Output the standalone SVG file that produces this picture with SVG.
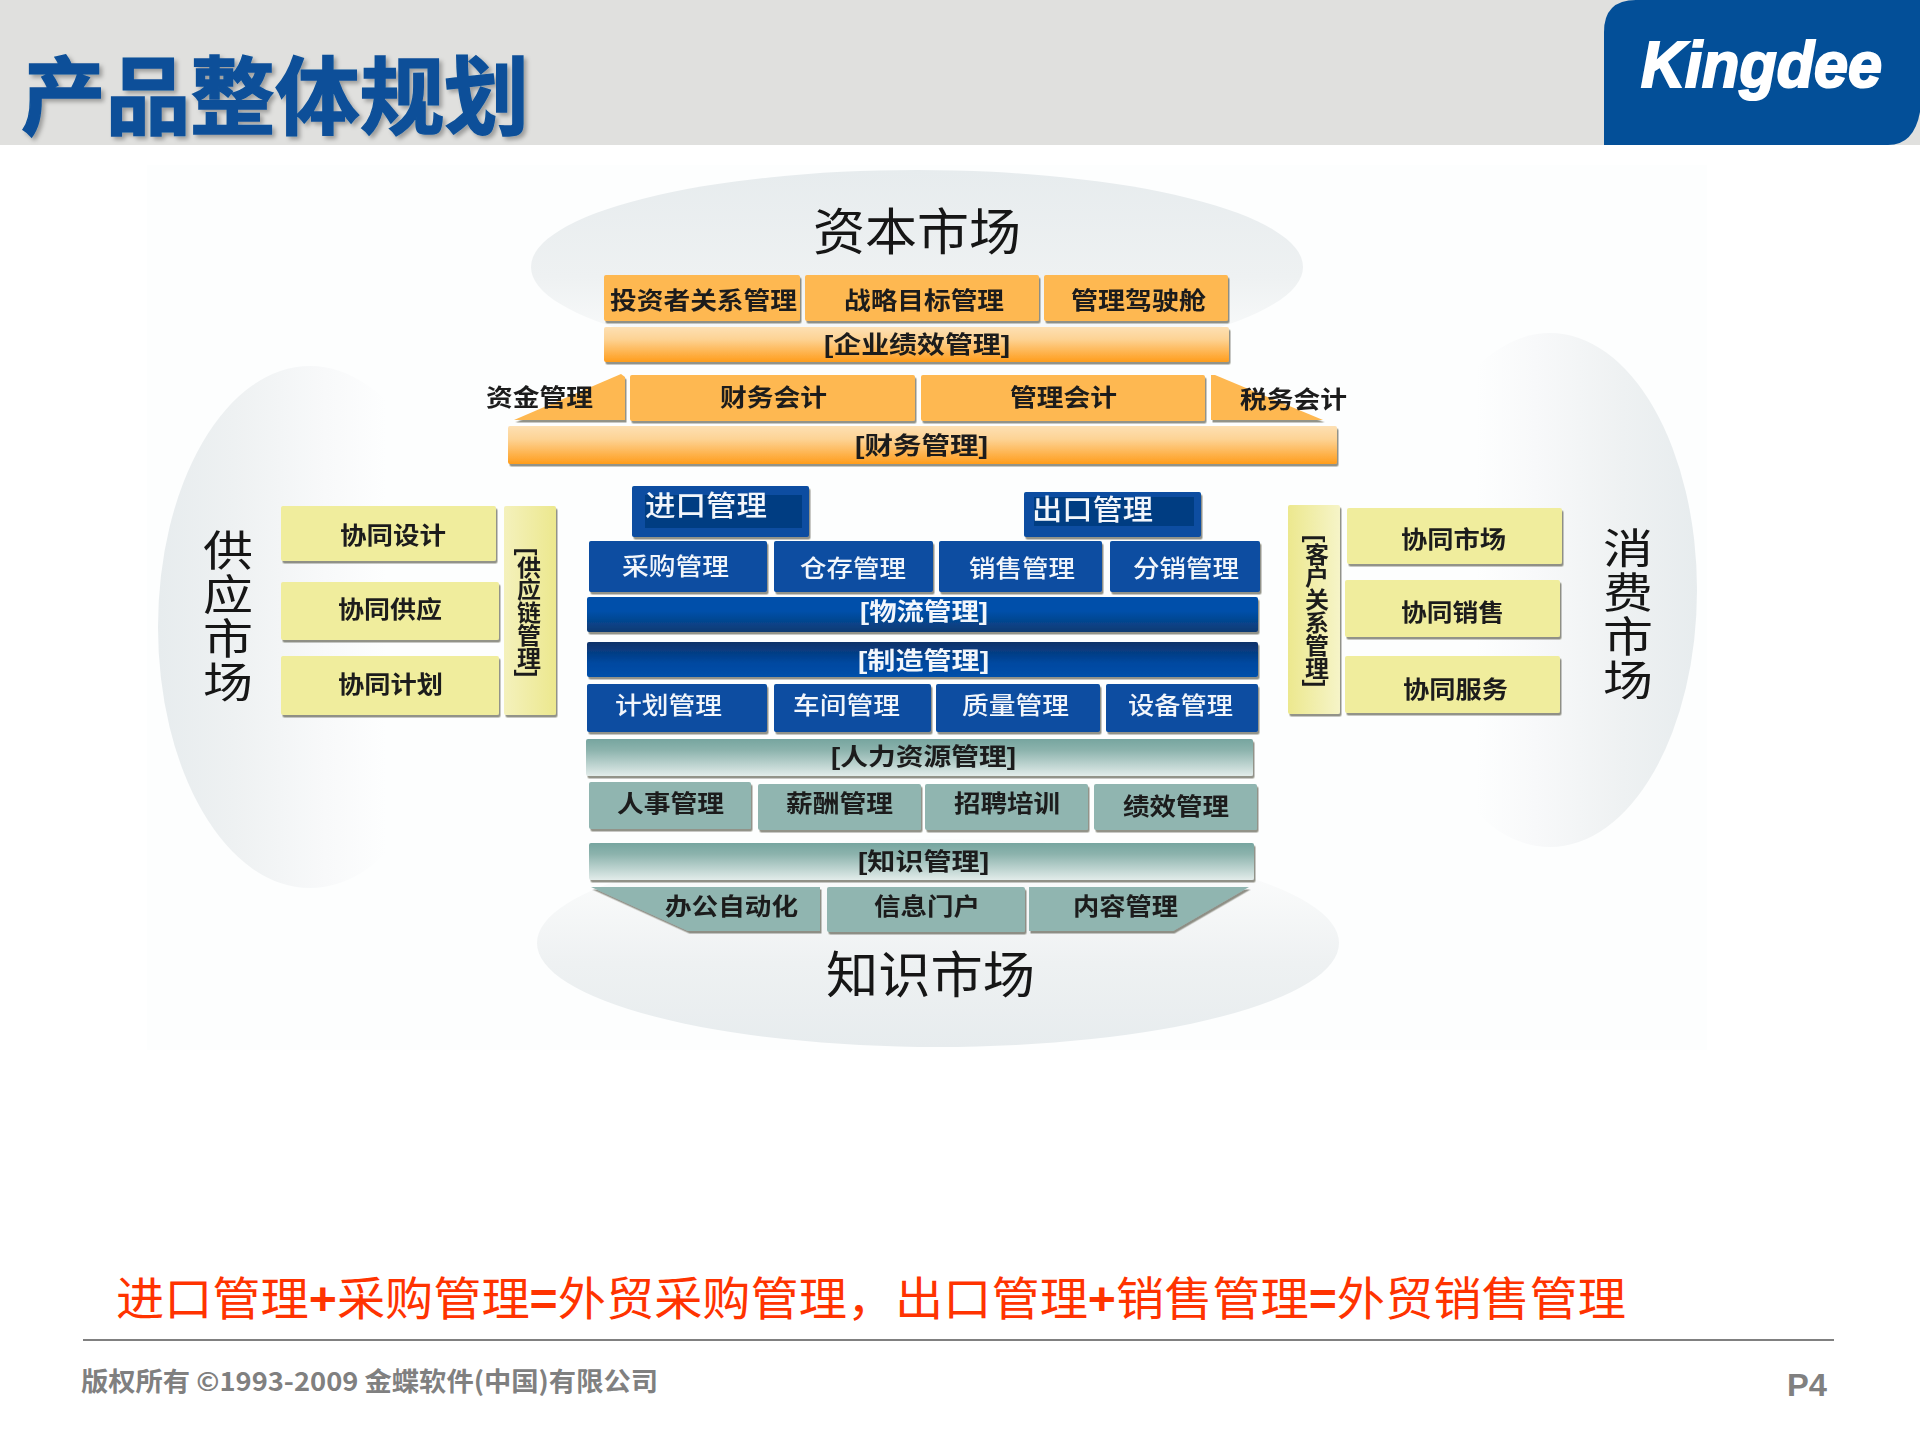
<svg xmlns="http://www.w3.org/2000/svg" width="1920" height="1440" viewBox="0 0 1920 1440">
<defs>
<linearGradient id="gTop" x1="0" y1="0" x2="0" y2="1"><stop offset="0" stop-color="#e7ecee"/><stop offset=".55" stop-color="#eef1f2"/><stop offset="1" stop-color="#fdfefe"/></linearGradient>
<linearGradient id="gBot" x1="0" y1="0" x2="0" y2="1"><stop offset=".15" stop-color="#fbfcfc"/><stop offset=".6" stop-color="#eef1f2"/><stop offset="1" stop-color="#e7ecee"/></linearGradient>
<linearGradient id="gLeft" x1="0" y1="0" x2="1" y2="0"><stop offset="0" stop-color="#e7ecee"/><stop offset=".25" stop-color="#eef1f2"/><stop offset=".55" stop-color="#f8f9fa"/><stop offset=".75" stop-color="#fdfefe"/></linearGradient>
<linearGradient id="gRight" x1="1" y1="0" x2="0" y2="0"><stop offset="0" stop-color="#e7ecee"/><stop offset=".25" stop-color="#eef1f2"/><stop offset=".55" stop-color="#f8f9fa"/><stop offset=".75" stop-color="#fdfefe"/></linearGradient>
<linearGradient id="gOr" x1="0" y1="0" x2="0" y2="1"><stop offset="0" stop-color="#fde0b4"/><stop offset=".35" stop-color="#fdd394"/><stop offset="1" stop-color="#ff9d1c"/></linearGradient>
<linearGradient id="gBlD" x1="0" y1="0" x2="0" y2="1"><stop offset="0" stop-color="#0050aa"/><stop offset=".4" stop-color="#0050aa"/><stop offset="1" stop-color="#0c3a72"/></linearGradient>
<linearGradient id="gBlU" x1="0" y1="0" x2="0" y2="1"><stop offset="0" stop-color="#0c3268"/><stop offset=".6" stop-color="#0048a0"/><stop offset="1" stop-color="#0050aa"/></linearGradient>
<linearGradient id="gTe" x1="0" y1="0" x2="0" y2="1"><stop offset="0" stop-color="#76a59f"/><stop offset=".3" stop-color="#8cb3ad"/><stop offset="1" stop-color="#e2ecea"/></linearGradient>
<linearGradient id="gYL" x1="0" y1="0" x2="1" y2="0"><stop offset="0" stop-color="#f4f1bc"/><stop offset="1" stop-color="#ece88e"/></linearGradient>
<linearGradient id="gYR" x1="0" y1="0" x2="1" y2="0"><stop offset="0" stop-color="#ece88e"/><stop offset="1" stop-color="#f6f4c8"/></linearGradient>
<filter id="sh" x="-5%" y="-10%" width="110%" height="125%"><feDropShadow dx="1.5" dy="2.5" stdDeviation="0.4" flood-color="#3a3a2a" flood-opacity=".55"/></filter>
<filter id="tsh" x="-5%" y="-10%" width="110%" height="125%"><feDropShadow dx="3" dy="3" stdDeviation="2" flood-color="#000" flood-opacity=".3"/></filter>
<filter id="soft" x="-2%" y="-2%" width="104%" height="104%"><feGaussianBlur stdDeviation="0.55"/></filter>
</defs>
<style>
text{font-family:"Liberation Sans","Noto Sans CJK SC",sans-serif}
.l{font-size:24px;font-weight:700;fill:#1c1c1c}
.w{fill:#f2f6fb;font-weight:500}
.wb{fill:#f2f6fb}
.m{font-size:50px;font-weight:400;fill:#141414}
.mv{font-size:42px;font-weight:400;fill:#141414}
.v{writing-mode:vertical-rl}
.or,.bar,.bl,.te,.ye,.bld,.blu,.tebar,.yl,.yr{filter:url(#sh)}
.or{fill:#feb851}.bar{fill:url(#gOr)}
.bl{fill:#084da1}.bld{fill:url(#gBlD)}.blu{fill:url(#gBlU)}.inner{fill:#063e82}
.te{fill:#90b5b0}.tebar{fill:url(#gTe)}
.ye{fill:#f0ed9d}.yl{fill:url(#gYL)}.yr{fill:url(#gYR)}
</style>
<rect width="1920" height="1440" fill="#fff"/>
<g id="header">
<rect width="1920" height="145" fill="#e0e0de"/>
<text x="21" y="128" font-size="85" font-weight="700" fill="#0a5099" stroke="#0a5099" stroke-width="1.5" filter="url(#tsh)" textLength="508" lengthAdjust="spacingAndGlyphs">产品整体规划</text>
</g>
<g id="logo">
<path d="M1604 145V32Q1604 0 1636 0H1920V112Q1914 145 1888 145Z" fill="#034f98"/>
<text x="1641" y="87" font-size="64" font-weight="700" font-style="italic" fill="#fff" stroke="#fff" stroke-width="2.2" textLength="241" lengthAdjust="spacingAndGlyphs">Kingdee</text>
</g>
<rect x="147" y="165" width="1560" height="885" fill="#fdfefe"/>
<g id="markets">
<ellipse cx="917" cy="267" rx="386" ry="97" fill="url(#gTop)"/>
<ellipse cx="938" cy="943" rx="401" ry="104" fill="url(#gBot)"/>
<ellipse cx="310" cy="627" rx="152" ry="261" fill="url(#gLeft)"/>
<ellipse cx="1550" cy="590" rx="147" ry="257" fill="url(#gRight)"/>
</g>
<g id="diagram" filter="url(#soft)">
<g id="market-labels">
<text class="m" x="813" y="250" textLength="208" lengthAdjust="spacingAndGlyphs">资本市场</text>
<text class="m" x="826" y="993" textLength="209" lengthAdjust="spacingAndGlyphs">知识市场</text>
<g id="market-supply"><text class="mv" x="203" y="566" textLength="50" lengthAdjust="spacingAndGlyphs">供</text><text class="mv" x="203" y="610" textLength="50" lengthAdjust="spacingAndGlyphs">应</text><text class="mv" x="203" y="654" textLength="50" lengthAdjust="spacingAndGlyphs">市</text><text class="mv" x="203" y="698" textLength="50" lengthAdjust="spacingAndGlyphs">场</text></g>
<g id="market-consumer"><text class="mv" x="1603" y="564" textLength="50" lengthAdjust="spacingAndGlyphs">消</text><text class="mv" x="1603" y="608" textLength="50" lengthAdjust="spacingAndGlyphs">费</text><text class="mv" x="1603" y="652" textLength="50" lengthAdjust="spacingAndGlyphs">市</text><text class="mv" x="1603" y="696" textLength="50" lengthAdjust="spacingAndGlyphs">场</text></g>
</g>
<g id="n-investor"><rect class="or" x="604" y="275" width="196" height="46" rx="2"/><text class="l" x="610" y="309" textLength="187" lengthAdjust="spacingAndGlyphs">投资者关系管理</text></g>
<g id="n-strategy"><rect class="or" x="805" y="275" width="234" height="46" rx="2"/><text class="l" x="844" y="309" textLength="160" lengthAdjust="spacingAndGlyphs">战略目标管理</text></g>
<g id="n-cockpit"><rect class="or" x="1044" y="275" width="184" height="46" rx="2"/><text class="l" x="1071" y="309" textLength="135" lengthAdjust="spacingAndGlyphs">管理驾驶舱</text></g>
<g id="n-epm"><rect class="bar" x="604" y="327" width="625" height="35" rx="2"/><text class="l" x="824" y="353" textLength="186" lengthAdjust="spacingAndGlyphs">[企业绩效管理]</text></g>
<g id="n-treasury"><path class="or" d="M514 420L621 374L625 377V420Z"/><text class="l" x="486" y="406" textLength="107" lengthAdjust="spacingAndGlyphs">资金管理</text></g>
<g id="n-fin-acc"><rect class="or" x="630" y="375" width="285" height="46" rx="2"/><text class="l" x="720" y="406" textLength="107" lengthAdjust="spacingAndGlyphs">财务会计</text></g>
<g id="n-mgmt-acc"><rect class="or" x="921" y="375" width="284" height="46" rx="2"/><text class="l" x="1010" y="406" textLength="107" lengthAdjust="spacingAndGlyphs">管理会计</text></g>
<g id="n-tax"><path class="or" d="M1211 420V375L1215 375L1323 420Z"/><text class="l" x="1240" y="408" textLength="107" lengthAdjust="spacingAndGlyphs">税务会计</text></g>
<g id="n-finance"><rect class="bar" x="508" y="426" width="829" height="38" rx="2"/><text class="l" x="855" y="454" textLength="133" lengthAdjust="spacingAndGlyphs">[财务管理]</text></g>
<g id="n-import"><rect class="bl" x="632" y="486" width="177" height="51" rx="2"/><rect class="inner" x="645" y="495" width="157" height="33"/><text class="l w" x="645" y="516" style="font-size:28px" textLength="122" lengthAdjust="spacingAndGlyphs">进口管理</text></g>
<g id="n-export"><rect class="bl" x="1024" y="492" width="177" height="45" rx="2"/><rect class="inner" x="1034" y="497" width="160" height="29"/><text class="l w" x="1032" y="520" style="font-size:28px" textLength="121" lengthAdjust="spacingAndGlyphs">出口管理</text></g>
<g id="n-purchase"><rect class="bl" x="589" y="541" width="178" height="51" rx="2"/><text class="l w" x="622" y="575" textLength="107" lengthAdjust="spacingAndGlyphs">采购管理</text></g>
<g id="n-stock"><rect class="bl" x="774" y="541" width="159" height="51" rx="2"/><text class="l w" x="800" y="577" textLength="106" lengthAdjust="spacingAndGlyphs">仓存管理</text></g>
<g id="n-sales"><rect class="bl" x="939" y="541" width="163" height="51" rx="2"/><text class="l w" x="969" y="577" textLength="106" lengthAdjust="spacingAndGlyphs">销售管理</text></g>
<g id="n-distribution"><rect class="bl" x="1110" y="541" width="150" height="51" rx="2"/><text class="l w" x="1133" y="577" textLength="106" lengthAdjust="spacingAndGlyphs">分销管理</text></g>
<g id="n-logistics"><rect class="bld" x="587" y="597" width="671" height="35" rx="2"/><text class="l wb" x="860" y="620" textLength="128" lengthAdjust="spacingAndGlyphs">[物流管理]</text></g>
<g id="n-manufacture"><rect class="blu" x="587" y="642" width="671" height="35" rx="2"/><text class="l wb" x="858" y="669" textLength="131" lengthAdjust="spacingAndGlyphs">[制造管理]</text></g>
<g id="n-plan"><rect class="bl" x="587" y="684" width="180" height="48" rx="2"/><text class="l w" x="615" y="714" textLength="107" lengthAdjust="spacingAndGlyphs">计划管理</text></g>
<g id="n-workshop"><rect class="bl" x="774" y="684" width="157" height="48" rx="2"/><text class="l w" x="793" y="714" textLength="107" lengthAdjust="spacingAndGlyphs">车间管理</text></g>
<g id="n-quality"><rect class="bl" x="936" y="684" width="164" height="48" rx="2"/><text class="l w" x="962" y="714" textLength="107" lengthAdjust="spacingAndGlyphs">质量管理</text></g>
<g id="n-equipment"><rect class="bl" x="1106" y="684" width="152" height="48" rx="2"/><text class="l w" x="1128" y="714" textLength="105" lengthAdjust="spacingAndGlyphs">设备管理</text></g>
<g id="n-hr"><rect class="tebar" x="586" y="739" width="667" height="37" rx="2"/><text class="l" x="831" y="765" textLength="185" lengthAdjust="spacingAndGlyphs">[人力资源管理]</text></g>
<g id="n-personnel"><rect class="te" x="589" y="782" width="162" height="47" rx="2"/><text class="l" x="617" y="812" textLength="107" lengthAdjust="spacingAndGlyphs">人事管理</text></g>
<g id="n-salary"><rect class="te" x="758" y="784" width="163" height="46" rx="2"/><text class="l" x="786" y="812" textLength="107" lengthAdjust="spacingAndGlyphs">薪酬管理</text></g>
<g id="n-recruit"><rect class="te" x="925" y="784" width="163" height="46" rx="2"/><text class="l" x="954" y="812" textLength="106" lengthAdjust="spacingAndGlyphs">招聘培训</text></g>
<g id="n-performance"><rect class="te" x="1094" y="784" width="163" height="46" rx="2"/><text class="l" x="1123" y="815" textLength="106" lengthAdjust="spacingAndGlyphs">绩效管理</text></g>
<g id="n-knowledge"><rect class="tebar" x="589" y="843" width="665" height="37" rx="2"/><text class="l" x="858" y="870" textLength="131" lengthAdjust="spacingAndGlyphs">[知识管理]</text></g>
<g id="n-office"><path class="te" d="M591 887H820V931H688Z"/><text class="l" x="665" y="915" textLength="133" lengthAdjust="spacingAndGlyphs">办公自动化</text></g>
<g id="n-portal"><rect class="te" x="827" y="887" width="198" height="45" rx="2"/><text class="l" x="874" y="915" textLength="106" lengthAdjust="spacingAndGlyphs">信息门户</text></g>
<g id="n-content"><path class="te" d="M1029 887H1249L1173 931H1029Z"/><text class="l" x="1073" y="915" textLength="105" lengthAdjust="spacingAndGlyphs">内容管理</text></g>
<g id="n-co-design"><rect class="ye" x="281" y="506" width="215" height="55" rx="2"/><text class="l" x="340" y="544" textLength="106" lengthAdjust="spacingAndGlyphs">协同设计</text></g>
<g id="n-co-supply"><rect class="ye" x="281" y="582" width="218" height="58" rx="2"/><text class="l" x="338" y="618" textLength="104" lengthAdjust="spacingAndGlyphs">协同供应</text></g>
<g id="n-co-plan"><rect class="ye" x="281" y="656" width="218" height="59" rx="2"/><text class="l" x="338" y="693" textLength="105" lengthAdjust="spacingAndGlyphs">协同计划</text></g>
<g id="n-scm"><rect class="yl" x="504" y="506" width="52" height="209" rx="2"/><text class="l v" x="527" y="548" textLength="129" lengthAdjust="spacingAndGlyphs">[供应链管理]</text></g>
<g id="n-crm"><rect class="yr" x="1288" y="505" width="52" height="209" rx="2"/><text class="l v" x="1315" y="535" textLength="152" lengthAdjust="spacingAndGlyphs">[客户关系管理]</text></g>
<g id="n-co-market"><rect class="ye" x="1347" y="508" width="215" height="56" rx="2"/><text class="l" x="1401" y="548" textLength="105" lengthAdjust="spacingAndGlyphs">协同市场</text></g>
<g id="n-co-sales"><rect class="ye" x="1345" y="580" width="215" height="57" rx="2"/><text class="l" x="1401" y="621" textLength="103" lengthAdjust="spacingAndGlyphs">协同销售</text></g>
<g id="n-co-service"><rect class="ye" x="1345" y="656" width="215" height="57" rx="2"/><text class="l" x="1403" y="698" textLength="105" lengthAdjust="spacingAndGlyphs">协同服务</text></g>
</g>
<g id="connectors"></g>
<g id="footer">
<text x="116" y="1315" font-size="46" fill="#ff3300" textLength="1510" lengthAdjust="spacingAndGlyphs">进口管理<tspan font-weight="700">+</tspan>采购管理<tspan font-weight="700">=</tspan>外贸采购管理，出口管理<tspan font-weight="700">+</tspan>销售管理<tspan font-weight="700">=</tspan>外贸销售管理</text>
<line x1="83" y1="1340" x2="1834" y2="1340" stroke="#808080" stroke-width="2"/>
<text x="81" y="1391" font-size="26" font-weight="700" fill="#808080" style="font-family:'Noto Sans CJK SC',sans-serif" textLength="577" lengthAdjust="spacingAndGlyphs">版权所有 ©1993-2009 金蝶软件(中国)有限公司</text>
<text x="1787" y="1396" font-size="32" font-weight="700" fill="#808080" textLength="40" lengthAdjust="spacingAndGlyphs">P4</text>
</g>
</svg>
